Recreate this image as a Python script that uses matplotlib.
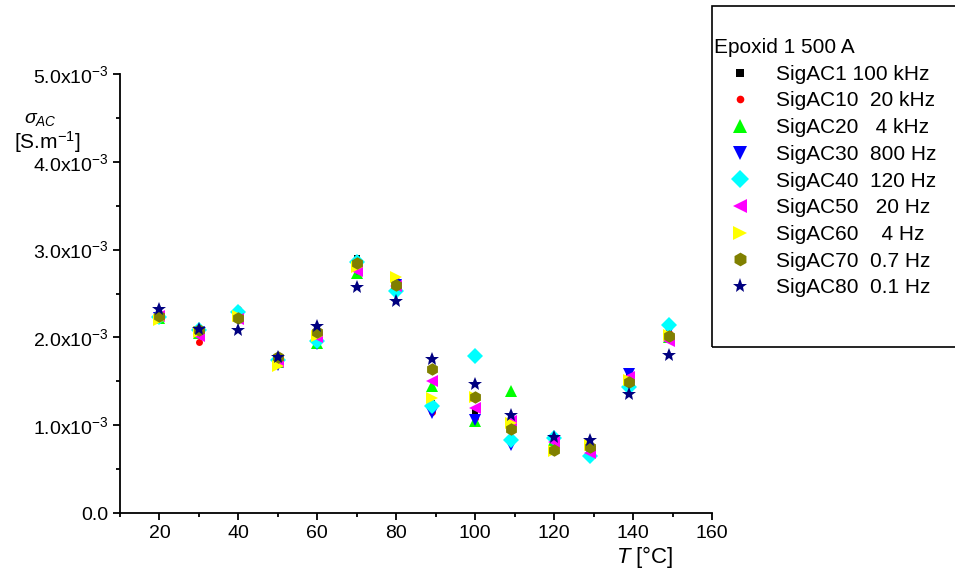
import numpy as np
import matplotlib
matplotlib.use('Agg')
import matplotlib.pyplot as plt
from matplotlib.ticker import MultipleLocator, FuncFormatter
from matplotlib.patches import Rectangle

plt.rcParams['font.family'] = ['Liberation Sans', 'DejaVu Sans']
plt.rcParams['mathtext.fontset'] = 'custom'
plt.rcParams['mathtext.rm'] = 'Liberation Sans'
plt.rcParams['mathtext.it'] = 'Liberation Sans:italic'

# temperatures [°C]
temps = [20, 30, 40, 50, 60, 70, 80, 89, 100, 109, 120, 129, 139, 149]

# sigma_AC in units of 1e-3 S/m
sig_100k = [2.25, 2.07, 2.27, 1.76, 1.99, 2.91, 2.63, 1.25, 1.15, 0.85, 0.87, 0.66, 1.56, 2.10]
sig_20k  = [2.24, 1.95, 2.32, 1.75, 2.00, 2.85, 2.65, 1.15, 1.08, 0.85, 0.87, 0.70, 1.52, 2.05]
sig_4k   = [2.22, 2.05, 2.25, 1.72, 1.94, 2.73, 2.58, 1.45, 1.05, 1.39, 0.83, 0.72, 1.50, 2.00]
sig_800  = [2.22, 2.06, 2.24, 1.69, 1.92, 2.78, 2.60, 1.14, 1.06, 0.78, 0.82, 0.70, 1.58, 2.08]
sig_120  = [2.23, 2.08, 2.29, 1.74, 1.96, 2.86, 2.53, 1.22, 1.79, 0.83, 0.85, 0.65, 1.44, 2.14]
sig_20   = [2.24, 2.02, 2.21, 1.72, 2.00, 2.76, 2.58, 1.50, 1.20, 1.05, 0.81, 0.68, 1.55, 1.96]
sig_4    = [2.20, 2.06, 2.24, 1.67, 2.02, 2.80, 2.69, 1.31, 1.32, 1.02, 0.71, 0.78, 1.52, 2.03]
sig_07   = [2.24, 2.08, 2.22, 1.78, 2.06, 2.85, 2.60, 1.64, 1.32, 0.96, 0.72, 0.75, 1.49, 2.02]
sig_01   = [2.32, 2.10, 2.08, 1.78, 2.13, 2.57, 2.41, 1.75, 1.47, 1.12, 0.86, 0.83, 1.36, 1.80]

series = [
    (sig_100k, 's', 'black',   5,  'SigAC1 100 kHz'),
    (sig_20k,  'o', 'red',     5,  'SigAC10  20 kHz'),
    (sig_4k,   '^', '#00FF00', 9,  'SigAC20   4 kHz'),
    (sig_800,  'v', 'blue',    9,  'SigAC30  800 Hz'),
    (sig_120,  'D', 'cyan',    8,  'SigAC40  120 Hz'),
    (sig_20,   '<', 'magenta', 9,  'SigAC50   20 Hz'),
    (sig_4,    '>', 'yellow',  9,  'SigAC60    4 Hz'),
    (sig_07,   'h', '#808000', 9,  'SigAC70  0.7 Hz'),
    (sig_01,   '*', '#000080', 10, 'SigAC80  0.1 Hz'),
]

fig = plt.figure(figsize=(9.55, 5.74), dpi=100)
ax = fig.add_axes([120/955, 1-513/574, 592/955, 439/574])

for vals, mk, col, ms, lab in series:
    ax.plot(temps, np.array(vals)*1e-3, linestyle='none', marker=mk, color=col,
            markersize=ms, markeredgewidth=0, label=lab)

ax.set_xlim(10, 160)
ax.set_ylim(0, 5e-3)
ax.spines['top'].set_visible(False)
ax.spines['right'].set_visible(False)
for s in ('left', 'bottom'):
    ax.spines[s].set_linewidth(1.3)

ax.xaxis.set_major_locator(MultipleLocator(20))
ax.xaxis.set_minor_locator(MultipleLocator(10))
ax.yaxis.set_major_locator(MultipleLocator(1e-3))
ax.yaxis.set_minor_locator(MultipleLocator(0.5e-3))
ax.tick_params(which='major', length=5, width=1.3, labelsize=14, direction='out')
ax.tick_params(which='minor', length=3, width=1.3, direction='out')

def yfmt(v, pos):
    if abs(v) < 1e-12:
        return '0.0'
    return '%.1fx10$^{-3}$' % (v*1e3)
ax.yaxis.set_major_formatter(FuncFormatter(yfmt))

ax.set_xlabel(r'$\it{T}$ [°C]', fontsize=16, labelpad=0)
ax.xaxis.set_label_coords(0.887, -0.07)

fig.text(40/955, 1-119/574, r'$\sigma_{AC}$', fontsize=14, ha='center', va='center')
fig.text(47/955, 1-142/574, r'[S.m$^{-1}$]', fontsize=15, ha='center', va='center')

# legend box (cut by figure edge like the original)
fig.patches.append(Rectangle((712/955, 1-347/574), 0.3, 341/574, transform=fig.transFigure,
                             fill=False, edgecolor='black', linewidth=1.2))
leg = fig.legend(loc='upper left', bbox_to_anchor=(712/955, 1-36/574), frameon=False,
                 title='Epoxid 1 500 A', title_fontsize=15, fontsize=15,
                 markerscale=1.1,
                 handlelength=2.5, handletextpad=0.45, labelspacing=0.37,
                 borderpad=0.1, borderaxespad=0, alignment='left')

fig.savefig('out.png', dpi=100)
